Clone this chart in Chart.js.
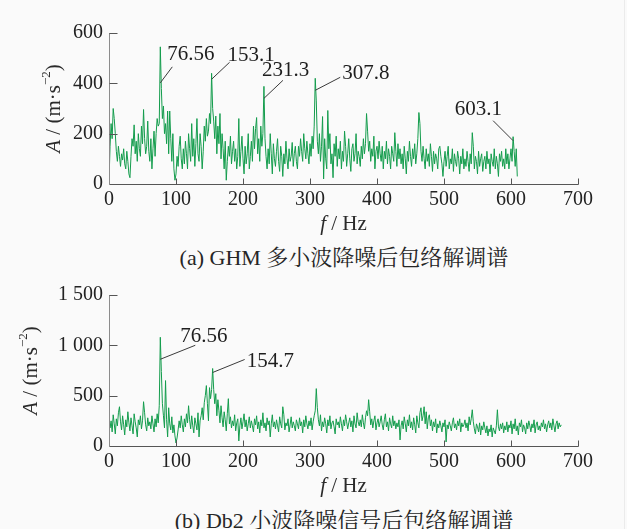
<!DOCTYPE html>
<html>
<head>
<meta charset="utf-8">
<script src="https://cdn.jsdelivr.net/npm/chart.js@4.4.1/dist/chart.umd.min.js"></script>
<style>
  html, body { margin: 0; padding: 0; background: #fafafa; }
  #page { position: relative; width: 627px; height: 529px; overflow: hidden; background: #fafafa; }
  .box { position: absolute; left: 0; width: 627px; height: 236px; }
  .cap { position: absolute; left: 344px; transform: translate(-50%, -50%); white-space: nowrap;
         font-size: 22px; font-family: "Liberation Serif", "Noto Serif CJK SC", "Noto Sans CJK SC", serif; color: #262626; }
  #edge { position: absolute; left: 624px; top: 0; width: 1px; height: 529px; background: #ebebeb; }
</style>
</head>
<body>
<div id="page">
  <div class="box" style="top:0px"><canvas id="chartA"></canvas></div>
  <div class="cap" style="top:255px">(a) GHM 多小波降噪后包络解调谱</div>
  <div class="box" style="top:262px"><canvas id="chartB"></canvas></div>
  <div class="cap" style="top:518px">(b) Db2 小波降噪信号后包络解调谱</div>
  <div id="edge"></div>
</div>
<script>
// Frequency resolution of the envelope spectra (Hz per bin)
const binWidth = 1.5625;

// Axis ranges and tick steps
const freqMax = 700, freqStep = 100;
const ampMaxA = 600, ampStepA = 200;
const ampMaxB = 1500, ampStepB = 500;

// (a) GHM multiwavelet denoised envelope spectrum, amplitude per bin (m/s^2)
const ampA = [
  10,150,240,180,300,260,200,130,90,150,110,70,120,95,140,80,60,130,90,40,
  25,110,180,150,235,120,170,90,200,140,110,230,160,296,180,120,150,250,130,90,
  180,60,140,210,110,200,260,230,240,545,380,260,310,200,240,160,290,120,290,180,
  90,200,60,15,40,110,70,150,190,100,60,140,80,170,120,60,200,140,90,240,
  110,180,70,160,260,120,90,200,150,60,130,230,170,260,190,210,280,240,440,300,
  250,180,270,120,230,160,280,100,200,140,60,170,15,90,150,110,190,80,130,170,
  90,140,60,110,260,70,130,190,100,40,150,80,120,200,60,110,170,90,230,140,
  220,264,120,180,90,230,150,200,388,180,110,60,140,80,200,120,40,160,100,70,
  130,180,90,50,150,110,30,120,80,170,100,60,140,90,110,165,70,120,150,90,
  60,150,110,180,130,90,200,140,100,170,120,80,160,110,190,140,230,420,330,170,
  120,200,90,150,268,20,180,100,60,292,140,200,80,120,25,160,110,190,70,140,
  100,170,60,130,90,210,150,70,120,180,100,50,140,160,90,120,200,80,130,110,
  70,150,100,180,120,160,280,210,130,170,90,140,110,190,60,130,150,100,170,120,
  90,150,60,130,100,170,80,140,110,60,150,120,90,204,130,70,160,100,140,80,
  120,60,150,100,40,130,90,170,110,70,140,100,160,80,120,180,284,240,130,90,
  150,100,60,140,90,120,70,160,110,50,130,80,120,100,60,140,150,110,80,30,
  90,130,70,110,150,60,100,80,140,50,120,90,70,130,100,40,110,80,140,60,
  100,70,130,90,50,120,80,204,150,60,110,90,40,130,70,100,120,50,90,110,
  60,130,80,100,40,120,90,70,140,60,110,80,30,120,90,130,70,100,60,140,
  80,120,60,100,140,90,188,130,70,140,30
];

// (b) Db2 wavelet denoised envelope spectrum, amplitude per bin (m/s^2)
const ampB = [
  290,180,250,140,310,220,120,270,200,330,390,240,160,300,210,110,260,190,340,230,
  150,280,200,120,320,240,180,90,260,210,300,170,250,440,330,210,150,280,200,240,
  170,300,220,140,270,190,320,230,400,1080,740,420,300,180,650,260,90,380,220,160,
  290,130,210,100,30,80,160,250,180,300,210,140,270,190,320,230,400,260,170,300,
  200,130,280,220,160,330,90,250,300,380,260,430,500,600,420,250,580,470,560,770,
  560,420,520,300,460,350,230,400,280,190,340,260,150,320,470,220,290,180,250,200,
  310,150,230,270,50,200,280,170,240,320,190,260,150,220,290,180,250,200,140,270,
  210,300,170,240,130,260,200,330,180,230,150,280,210,250,90,220,310,190,240,170,
  260,200,140,290,220,180,390,310,160,230,200,270,140,210,290,180,240,200,150,260,
  220,170,280,200,240,130,260,190,300,220,170,250,200,280,160,240,300,350,570,380,
  260,200,310,150,240,190,280,220,130,260,200,300,170,230,250,190,120,270,210,240,
  180,290,220,150,260,200,310,240,170,230,280,190,250,140,300,220,180,330,240,200,
  260,190,310,230,170,280,350,300,460,340,210,270,180,250,300,160,230,270,190,240,
  300,210,160,260,320,190,240,150,280,220,180,300,200,250,170,230,190,260,60,200,
  250,170,290,220,140,260,200,310,180,240,160,280,210,130,300,230,180,330,380,250,
  300,390,220,340,170,280,310,200,260,150,240,190,270,130,220,180,250,200,140,230,
  190,260,40,210,170,240,200,150,230,280,180,220,160,250,200,270,140,230,190,210,
  260,180,230,150,290,210,270,360,240,170,120,220,190,140,230,110,200,160,240,180,
  130,200,100,170,140,210,90,180,150,120,200,360,190,150,220,170,230,130,200,160,
  240,140,210,180,250,120,220,170,270,150,200,110,230,190,260,140,210,180,120,230,
  170,250,200,140,220,180,260,130,210,240,160,200,150,230,190,260,170,220,140,210,
  250,180,230,160,270,200,140,220,250,170,230,190,210
];

// Labelled characteristic peaks (bin indices)
const peakBinsA = [49, 98, 148, 197, 386];
const peakBinsB = [49, 99];

// Leader-line / label placement for each labelled peak (pixels, relative to the spike top)
const calloutStyleA = [
  { start: 36, end: [12, 20],  text: [7, 8],    align: 'left'  },
  { start: 6,  end: [18, -11], text: [16, -18], align: 'left'  },
  { start: 12, end: [19, -6],  text: [-2, -16], align: 'left'  },
  { start: 12, end: [25, -1],  text: [27, -5],  align: 'left'  },
  { start: 4,  end: [-20, -16], text: [-11, -27], align: 'right' }
];
const calloutStyleB = [
  { start: 22, end: [35, 8],  text: [20, -1], align: 'left' },
  { start: 4,  end: [32, -9], text: [34, -7], align: 'left' }
];

const SERIF = "'Liberation Serif', serif";
const LINE_GREEN = '#139c4c';

function toPoints(values) {
  return values.map((v, i) => ({ x: i * binWidth, y: v }));
}

function groupThousands(v) {
  return String(v).replace(/\B(?=(\d{3})+$)/g, ' ');
}

// Draws the axis lines, inward tick marks, axis titles and peak callouts
function decorations(values, peakBins, styles, yTitleX) {
  return {
    id: 'decorations',
    afterDraw(chart) {
      const ctx = chart.ctx;
      const xs = chart.scales.x, ys = chart.scales.y;
      const a = chart.chartArea;
      const L = Math.round(a.left) + 0.5, B = Math.round(a.bottom) + 0.5;
      ctx.save();
      ctx.lineWidth = 1;

      // y axis line + inward ticks
      ctx.strokeStyle = '#8c8c8c';
      ctx.beginPath();
      ctx.moveTo(L, Math.round(a.top)); ctx.lineTo(L, B);
      ctx.stroke();
      ctx.strokeStyle = '#555';
      ys.ticks.forEach(t => {
        if (t.value <= 0) return;
        const py = Math.round(ys.getPixelForValue(t.value)) + 0.5;
        ctx.beginPath(); ctx.moveTo(L, py); ctx.lineTo(L + 8, py); ctx.stroke();
      });

      // x axis line + inward ticks
      ctx.strokeStyle = '#555';
      ctx.beginPath();
      ctx.moveTo(L, B); ctx.lineTo(Math.round(a.right) + 0.5, B);
      ctx.stroke();
      xs.ticks.forEach(t => {
        if (t.value <= 0) return;
        const px = Math.round(xs.getPixelForValue(t.value)) + 0.5;
        ctx.beginPath(); ctx.moveTo(px, B); ctx.lineTo(px, B - 6); ctx.stroke();
      });

      // peak callouts
      ctx.fillStyle = '#1e1e1e';
      ctx.textBaseline = 'middle';
      peakBins.forEach((bin, k) => {
        const f = bin * binWidth;
        const s = styles[k];
        const px = xs.getPixelForValue(f);
        const py = ys.getPixelForValue(values[bin]);
        ctx.strokeStyle = '#3a3a3a';
        ctx.beginPath();
        ctx.moveTo(px, py + s.start);
        ctx.lineTo(px + s.end[0], py + s.end[1]);
        ctx.stroke();
        ctx.textAlign = s.align;
        ctx.font = '21px ' + SERIF;
        ctx.fillText(f.toPrecision(4), px + s.text[0], py + s.text[1]);
      });

      // x axis title: f / Hz
      const cx = (a.left + a.right) / 2, ty = a.bottom + 40;
      drawRich(ctx, [
        { t: 'f', font: 'italic 21px ' + SERIF },
        { t: ' / Hz', font: '21px ' + SERIF }
      ], cx, ty);

      // y axis title: A / (m·s⁻²), rotated
      ctx.translate(yTitleX, (a.top + a.bottom) / 2);
      ctx.rotate(-Math.PI / 2);
      drawRich(ctx, [
        { t: 'A', font: 'italic 21px ' + SERIF },
        { t: ' / (m·s', font: '21px ' + SERIF },
        { t: '−2', font: '13px ' + SERIF, dy: -7 },
        { t: ')', font: '21px ' + SERIF }
      ], 0, 0);
      ctx.restore();
    }
  };
}

// Centered run of text pieces with individual fonts
function drawRich(ctx, parts, cx, cy) {
  let w = 0;
  parts.forEach(p => { ctx.font = p.font; p.w = ctx.measureText(p.t).width; w += p.w; });
  let x = cx - w / 2;
  ctx.fillStyle = '#2a2a2a';
  ctx.textAlign = 'left';
  ctx.textBaseline = 'middle';
  parts.forEach(p => {
    ctx.font = p.font;
    ctx.fillText(p.t, x, cy + (p.dy || 0));
    x += p.w;
  });
}

function makeChart(id, values, yMax, yStep, peakBins, styles, yTitleX, yFmt) {
  return new Chart(document.getElementById(id), {
    type: 'line',
    data: {
      datasets: [{
        data: toPoints(values),
        borderColor: LINE_GREEN,
        borderWidth: 1,
        pointRadius: 0,
        tension: 0,
        fill: false
      }]
    },
    options: {
      responsive: true,
      maintainAspectRatio: false,
      animation: false,
      devicePixelRatio: 1,
      layout: { padding: { top: 33, right: 49, bottom: 0, left: 0 } },
      plugins: { legend: { display: false }, tooltip: { enabled: false } },
      scales: {
        x: {
          type: 'linear', min: 0, max: freqMax,
          grid: { display: false, drawTicks: false },
          border: { display: false },
          ticks: { stepSize: freqStep, padding: 4, maxRotation: 0, autoSkip: false,
                   color: '#222', font: { family: SERIF, size: 20 } },
          afterFit(s) { s.height = 52; }
        },
        y: {
          type: 'linear', min: 0, max: yMax,
          grid: { display: false, drawTicks: false },
          border: { display: false },
          ticks: { stepSize: yStep, padding: 6, color: '#222',
                   font: { family: SERIF, size: 20 }, callback: yFmt },
          afterFit(s) { s.width = 109; }
        }
      }
    },
    plugins: [decorations(values, peakBins, styles, yTitleX)]
  });
}

makeChart('chartA', ampA, ampMaxA, ampStepA, peakBinsA, calloutStyleA, 54, v => String(v));
makeChart('chartB', ampB, ampMaxB, ampStepB, peakBinsB, calloutStyleB, 31, v => groupThousands(v));
</script>
</body>
</html>
